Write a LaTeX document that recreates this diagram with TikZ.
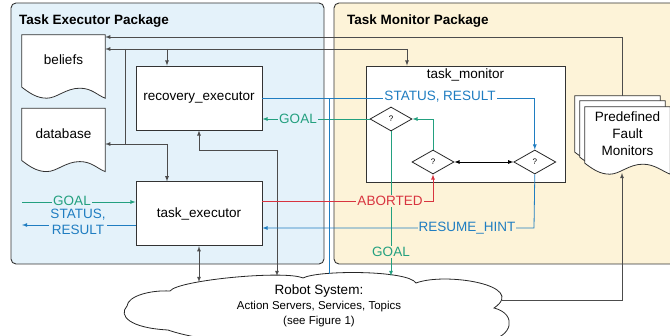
\documentclass[tikz,border=0pt]{standalone}
\usepackage{fontspec}
\setmainfont{Liberation Sans}
\usepackage{xcolor}
\usetikzlibrary{arrows,shapes,shapes.geometric,backgrounds,fit,positioning,calc}

\definecolor{execfill}{HTML}{E4F2FA}
\definecolor{monfill}{HTML}{FDF3D8}
\definecolor{goalgreen}{HTML}{23A07F}
\definecolor{statblue}{HTML}{1F7DC1}
\definecolor{abortred}{HTML}{D8343F}

% paper sheet with a wavy lower edge, drawn behind the node text
\newcommand{\docoutline}[1]{%
  \begin{scope}[on background layer]
  \draw[fill=white, draw=black!80, line width=0.8pt] ($(#1.south west)+(0,-11)$) -- (#1.north west) -- (#1.north east) -- (#1.south east)
    .. controls +(-8,-3) and +(12,0) .. ($(#1.south west)+(58,-10)$)
    .. controls +(-14,0) and +(10,0) .. ($(#1.south west)+(25,0)$)
    .. controls +(-10,0) and +(8,6) .. ($(#1.south west)+(0,-11)$) -- cycle;
  \end{scope}}
\newcommand{\smalltext}{\fontsize{11.5}{15}\selectfont}

\begin{document}
\begin{tikzpicture}[x=1pt, y=-1pt, font=\fontsize{13.5}{16}\selectfont]
        \tikzstyle{doc}=[minimum width=83pt, minimum height=63pt, inner sep=0pt]
        \tikzstyle{proc}=[rectangle, draw=black!80, fill=white, line width=0.8pt, minimum width=126pt, minimum height=64pt, inner sep=0pt]
        \tikzstyle{check}=[diamond, draw=black!85, fill=white, line width=0.8pt, minimum width=42pt, minimum height=24pt, inner sep=0pt, font=\fontsize{8}{9}\selectfont]
        \tikzstyle{pkg}=[rounded corners=5pt, draw=black!80, line width=0.9pt]
        \tikzstyle{title}=[anchor=west, font=\bfseries\fontsize{13.5}{16}\selectfont]
        \tikzstyle{wire}=[draw=black!70, line width=0.8pt]
        \tikzstyle{connect}=[wire, -latex]
        \tikzstyle{biconnect}=[wire, latex-latex]
        \tikzstyle{gconnect}=[draw=goalgreen, line width=0.8pt, -latex]
        \tikzstyle{bconnect}=[draw=statblue, line width=0.8pt, -latex]
        \tikzstyle{rconnect}=[draw=abortred, line width=0.8pt, -latex]
        \tikzstyle{msg}=[inner sep=1pt]
        \useasboundingbox (0,0) rectangle (670,336);
        \begin{scope}[on background layer]
        \draw[pkg, fill=execfill] (11,3) rectangle (324,264);
        \draw[pkg, fill=monfill] (334,3) rectangle (700,264);
        \end{scope}
        \node[title] (exectitle) at (15.5,21) {Task Executor Package};
        \node[title] (montitle) at (343.5,21) {Task Monitor Package};
        % knowledge sheets
        \node[doc] (beliefs) at (63.5,66.5) [label={[yshift=7pt]center:beliefs}] {};
        \node[doc] (database) [below=10pt of beliefs, label={[yshift=6pt]center:database}] {};
        \docoutline{beliefs}
        \docoutline{database}
        % executors
        \node[proc] (recovery) at (199,98) {recovery\_executor};
        \node[proc] (executor) [below=51pt of recovery] {task\_executor};
        % monitor
        \node[rectangle, draw=black!80, fill=white, line width=0.8pt, minimum width=199pt, minimum height=116pt] (monitor) at (465.5,124) [label={[anchor=north]north:task\_monitor}] {};
        \node[check] (ldia) at (391,119) {?};
        \node[check] (mdia) at (433,162) {?};
        \node[check] (rdia) [right=59pt of mdia] {?};
        % stack of fault monitors
        \node[doc, minimum width=85pt, minimum height=67pt] (back) at (617.5,129.5) {};
        \node[doc, minimum width=85pt, minimum height=67pt] (middle) at (622.5,134.5) {};
        \node[doc, minimum width=85pt, minimum height=67pt, align=center] (front) at (627.5,140.5) [label={[yshift=7pt, align=center, font=\fontsize{13.5}{17}\selectfont]center:Predefined\\Fault\\Monitors}] {};
        \docoutline{back}
        \docoutline{middle}
        \docoutline{front}
        % robot system cloud
        \draw[draw=black!85, fill=white, line width=0.8pt] (127,306) .. controls (128,296) and (150,290) .. (170,291)
          .. controls (178,280) and (285,270) .. (303,278)
          .. controls (318,270) and (408,270) .. (416,283)
          .. controls (445,272) and (528,285) .. (494,308)
          .. controls (518,314) and (512,338) .. (488,340)
          .. controls (420,352) and (230,352) .. (168,330)
          .. controls (130,328) and (118,316) .. (127,306) -- cycle;
        \node[align=center, font=\fontsize{13.5}{15}\selectfont] (robot) at (319,306) {Robot System:\\\smalltext Action Servers, Services, Topics\\\smalltext (see Figure 1)};
        \coordinate (cl1) at (199,282);
        \coordinate (cl2) at (277,276);
        \coordinate (cl3) at (329,274);
        \coordinate (cl4) at (391,276);
        \coordinate (cl5) at (502,300);
        % shared access lines
        \coordinate (busA) at (622,37);
        \coordinate (busB) at (407,49);
        \coordinate (busC) at (125,49);
        \coordinate (busD) at (167,144);
        \draw[connect] (back.north -| busA) -- (busA) -- (beliefs.east |- busA);
        \draw[connect] (busB) -- (beliefs.east |- busB);
        \draw[connect] (busB) -- (monitor.north -| busB);
        \draw[connect] (busD |- busB) -- (recovery.north -| busD);
        \draw[wire] (busC) -- (busC |- busD) -- (busD);
        \draw[connect] (busD) -- (database.east |- busD);
        \draw[connect] (busD) -- (executor.north -| busD);
        \coordinate (rc) at (277,150);
        \draw[biconnect] (recovery.south) -- (recovery.south |- rc) -- (rc) -- (cl2);
        \draw[biconnect] (executor.south) -- (cl1);
        \coordinate (fmb) at (622,173);
        \draw[connect] (cl5) -| (fmb);
        % goal messages
        \draw[gconnect] (mdia.north) |- (ldia.east);
        \draw[gconnect] (ldia.west) -- (recovery.east |- ldia.west);
        \node[msg, fill=execfill, text=goalgreen] (goalrec) at (298,119) {GOAL};
        \draw[gconnect] (ldia.south) -- (cl4);
        \node[msg, fill=monfill, text=goalgreen] (goalrob) at (391,252) {GOAL};
        \coordinate (lg) at (22,202);
        \draw[gconnect] (lg) -- (executor.west |- lg);
        \node[msg, fill=execfill, text=goalgreen] (goalin) at (72,201) {GOAL};
        % status and results
        \draw[bconnect] (recovery.east) -| (rdia.north);
        \draw[draw=statblue, line width=0.8pt] (cl3) -- (cl3 |- recovery.east);
        \node[msg, fill=white, text=statblue] (statmon) at (440,97) {STATUS, RESULT};
        \coordinate (ls) at (22,225);
        \draw[bconnect] (executor.west |- ls) -- (ls);
        \node[msg, fill=execfill, text=statblue, align=center, font=\fontsize{13.5}{16}\selectfont] (statout) at (78,222) {STATUS,\\RESULT};
        % abort and resume
        \coordinate (ab) at (433,201);
        \draw[rconnect] (executor.east |- ab) -- (ab) -- (mdia.south);
        \node[msg, fill=monfill, text=abortred] (aborted) at (390,201) {ABORTED};
        \coordinate (rh) at (534,228);
        \draw[bconnect] (rdia.south) -- (rh) -- (executor.east |- rh);
        \node[msg, fill=monfill, text=statblue] (resume) at (467,228) {RESUME\_HINT};
        \draw[latex-latex, draw=black, line width=0.8pt] (mdia.east) -- (rdia.west);
      \end{tikzpicture}
\end{document}
